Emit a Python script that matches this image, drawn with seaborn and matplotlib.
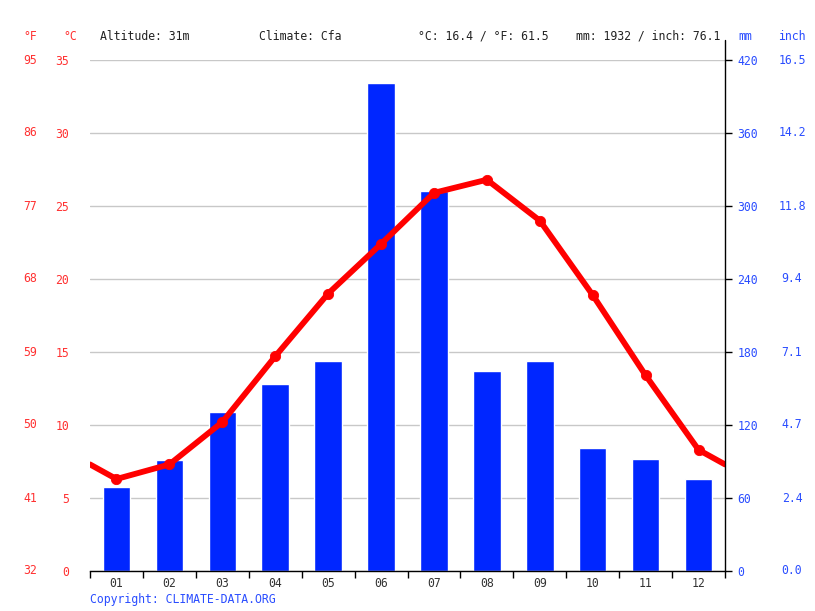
import matplotlib
matplotlib.use("Agg")
import matplotlib.pyplot as plt
import seaborn as sns
import pandas as pd
import numpy as np
from matplotlib.ticker import FixedLocator

months = ["01", "02", "03", "04", "05", "06", "07", "08", "09", "10", "11", "12"]
precip_mm = [69, 91, 131, 154, 173, 401, 312, 164, 173, 101, 92, 76]
temp_c = [6.3, 7.3, 10.2, 14.7, 19.0, 22.4, 25.9, 26.8, 24.0, 18.9, 13.4, 8.3]
c_ticks = [0, 5, 10, 15, 20, 25, 30, 35]
f_labels = ["32", "41", "50", "59", "68", "77", "86", "95"]
mm_ticks = [0, 60, 120, 180, 240, 300, 360, 420]
inch_labels = ["0.0", "2.4", "4.7", "7.1", "9.4", "11.8", "14.2", "16.5"]
header = ["Altitude: 31m", "Climate: Cfa", "°C: 16.4 / °F: 61.5", "mm: 1932 / inch: 76.1"]

sns.set_theme(style="white")
plt.rcParams["font.family"] = ["DejaVu Sans Mono", "DejaVu Sans"]
FS = 8.3
RED = "#ff0000"
BLUE = "#0026ff"
TXT_RED = "#ff3030"
TXT_BLUE = "#2a4dff"

W, H = 815, 611
fig = plt.figure(figsize=(W / 100, H / 100), dpi=100)
L, R, T, B = 90, 725, 60, 571
ax = fig.add_axes([L / W, 1 - B / H, (R - L) / W, (B - T) / H])
ax2 = ax.twinx()

df_bar = pd.DataFrame({"x": list(range(12)), "mm": precip_mm})
sns.barplot(data=df_bar, x="x", y="mm", ax=ax2, color=BLUE, width=0.52,
            saturation=1, native_scale=True, zorder=2)
ax2.set_ylim(0, 420)
ax2.set_yticks(mm_ticks)
ax2.set_yticklabels([str(v) for v in mm_ticks], color=TXT_BLUE, fontsize=FS)
ax2.grid(axis="y", color="#c8c8c8", linewidth=1, zorder=0)
ax2.set_axisbelow(True)
ax2.tick_params(axis="y", right=True, direction="out", length=5, width=1,
                color="black", pad=4)
ax2.set_ylabel("")
ax2.set_xlabel("")

edge = (temp_c[0] + temp_c[-1]) / 2
xl = [-0.5] + list(range(12)) + [11.5]
yl = [edge] + temp_c + [edge]
df_line = pd.DataFrame({"x": xl, "t": yl})
df_pts = pd.DataFrame({"x": list(range(12)), "t": temp_c})
sns.lineplot(data=df_line, x="x", y="t", ax=ax, color=RED, linewidth=4.2,
             sort=False, zorder=5)
sns.scatterplot(data=df_pts, x="x", y="t", ax=ax, color=RED, s=55,
                edgecolor=RED, zorder=6)
ax.set_zorder(ax2.get_zorder() + 1)
ax.patch.set_visible(False)
ax.set_ylim(0, 35)
ax.set_xlim(-0.5, 11.5)
ax2.set_xlim(-0.5, 11.5)
ax.set_yticks(c_ticks)
ax.set_yticklabels([str(v) for v in c_ticks], color=TXT_RED, fontsize=FS)
ax.tick_params(axis="y", left=False, pad=9)
ax.set_xticks(range(12))
ax.set_xticklabels(months, fontsize=FS, color="#333333")
ax.xaxis.set_minor_locator(FixedLocator(np.arange(-0.5, 12, 1)))
ax.tick_params(axis="x", which="major", length=0, pad=4)
ax.tick_params(axis="x", which="minor", bottom=True, length=5, width=1,
               color="black")
ax.set_xlabel("")
ax.set_ylabel("")

for a in (ax, ax2):
    for s in ["top", "left", "right", "bottom"]:
        a.spines[s].set_visible(False)
ax.spines["bottom"].set_visible(True)
ax.spines["bottom"].set_color("black")
ax.spines["bottom"].set_linewidth(1)

# right axis line extended above plot
fig.add_artist(plt.Line2D([R / W, R / W], [1 - B / H, 1 - 40 / H],
                          color="black", linewidth=1, transform=fig.transFigure))


def ftext(x, y, s, **kw):
    fig.text(x / W, 1 - y / H, s, fontsize=FS, va="center", **kw)


for v, lab in zip(c_ticks, f_labels):
    ypix = B - v / 35 * (B - T)
    ftext(30, ypix, lab, color=TXT_RED, ha="center")
for v, lab in zip(mm_ticks, inch_labels):
    ypix = B - v / 420 * (B - T)
    ftext(792, ypix, lab, color=TXT_BLUE, ha="center")

ftext(30, 36, "°F", color=TXT_RED, ha="center")
ftext(70, 36, "°C", color=TXT_RED, ha="center")
ftext(745, 36, "mm", color=TXT_BLUE, ha="center")
ftext(792, 36, "inch", color=TXT_BLUE, ha="center")
ftext(100, 36, header[0], color="#222222", ha="left")
ftext(259, 36, header[1], color="#222222", ha="left")
ftext(418, 36, header[2], color="#222222", ha="left")
ftext(576, 36, header[3], color="#222222", ha="left")
ftext(90, 599, "Copyright: CLIMATE-DATA.ORG", color=TXT_BLUE, ha="left")

fig.savefig("out.png", dpi=100)
